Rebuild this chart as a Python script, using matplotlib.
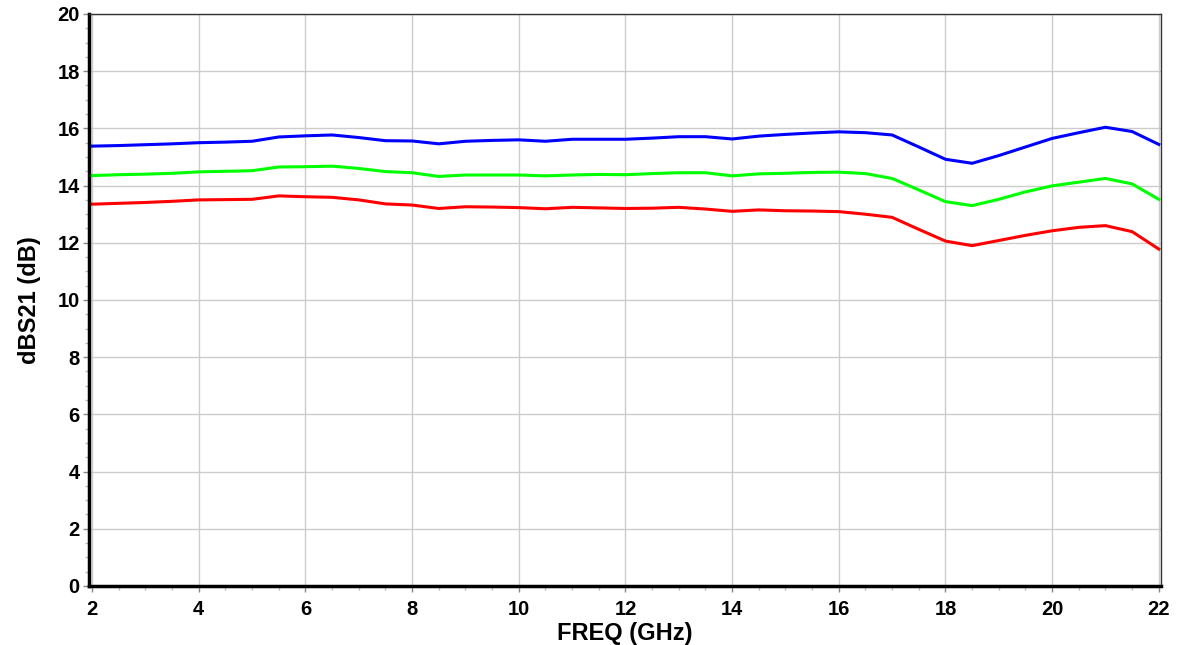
import matplotlib.pyplot as plt
import numpy as np

plt.rcParams['font.family'] = ['Liberation Sans', 'DejaVu Sans']

freq = np.arange(2.0, 22.01, 0.5)

s21_blue = [15.38, 15.40, 15.43, 15.46, 15.50, 15.52, 15.55, 15.70, 15.74, 15.77,
            15.68, 15.57, 15.56, 15.46, 15.55, 15.58, 15.60, 15.55, 15.62, 15.62,
            15.62, 15.66, 15.71, 15.71, 15.63, 15.73, 15.79, 15.84, 15.88, 15.85,
            15.77, 15.35, 14.92, 14.78, 15.05, 15.35, 15.65, 15.85, 16.04, 15.89,
            15.44]
s21_green = [14.35, 14.38, 14.40, 14.43, 14.48, 14.50, 14.52, 14.65, 14.66, 14.68,
             14.60, 14.49, 14.45, 14.32, 14.37, 14.37, 14.37, 14.34, 14.37, 14.39,
             14.38, 14.42, 14.45, 14.45, 14.34, 14.41, 14.43, 14.46, 14.47, 14.42,
             14.25, 13.85, 13.44, 13.30, 13.52, 13.78, 13.99, 14.12, 14.25, 14.06,
             13.52]
s21_red = [13.35, 13.38, 13.41, 13.45, 13.50, 13.51, 13.52, 13.64, 13.61, 13.59,
           13.50, 13.36, 13.32, 13.20, 13.26, 13.25, 13.23, 13.19, 13.24, 13.22,
           13.20, 13.21, 13.24, 13.18, 13.10, 13.15, 13.12, 13.11, 13.09, 13.00,
           12.89, 12.47, 12.06, 11.90, 12.08, 12.26, 12.42, 12.54, 12.60, 12.39,
           11.78]

fig = plt.figure(figsize=(11.82, 6.45), dpi=100)
ax = fig.add_axes([0.0757, 0.0915, 0.9065, 0.8868])

ax.plot(freq, s21_blue, color='#0000ff', lw=2.2)
ax.plot(freq, s21_green, color='#00ff00', lw=2.2)
ax.plot(freq, s21_red, color='#ff0000', lw=2.2)

ax.set_xlim(1.95, 22.04)
ax.set_ylim(0, 20)
ax.set_xticks(np.arange(2, 23, 2))
ax.set_yticks(np.arange(0, 21, 2))
ax.set_xticks(np.arange(2, 22.01, 0.5), minor=True)
ax.set_yticks(np.arange(0, 20.01, 0.5), minor=True)
ax.grid(True, which='major', color='#cccccc', lw=1)
ax.tick_params(which='major', labelsize=14.5, length=4, width=1, color='#888888')
ax.tick_params(axis='x', which='major', pad=6)
ax.tick_params(axis='y', which='major', pad=3)
ax.tick_params(which='minor', length=3, width=1, color='#bbbbbb')
for lab in ax.get_xticklabels() + ax.get_yticklabels():
    lab.set_fontweight('bold')

ax.spines['left'].set_linewidth(2.5)
ax.spines['bottom'].set_linewidth(2.5)
ax.spines['top'].set_linewidth(1)
ax.spines['right'].set_linewidth(1)
ax.spines['top'].set_color('#333333')
ax.spines['right'].set_color('#333333')

ax.set_xlabel('FREQ (GHz)', fontsize=17, fontweight='bold', labelpad=2)
ax.set_ylabel('dBS21 (dB)', fontsize=17, fontweight='bold', labelpad=12)

fig.savefig('out.png', dpi=100)
